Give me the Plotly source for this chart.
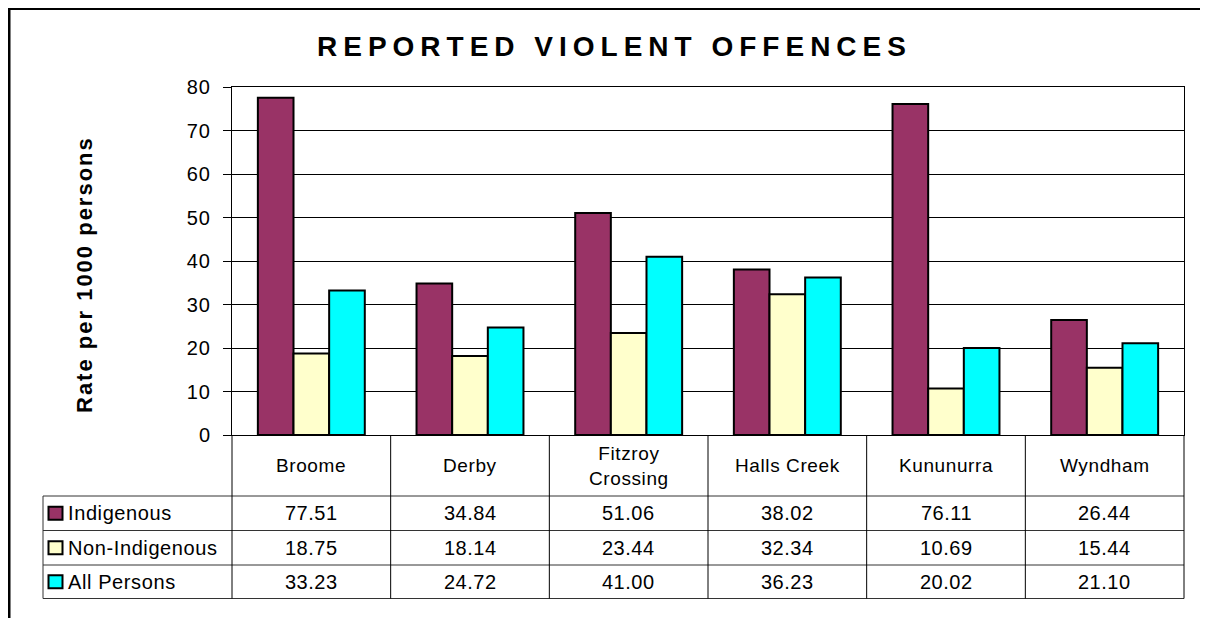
import plotly.graph_objects as go

# ---------------- data ----------------
categories = ["Broome", "Derby", "Fitzroy Crossing", "Halls Creek", "Kununurra", "Wyndham"]
category_labels = ["Broome", "Derby", "Fitzroy<br>Crossing", "Halls Creek", "Kununurra", "Wyndham"]
series_names = ["Indigenous", "Non-Indigenous", "All Persons"]
indigenous = [77.51, 34.84, 51.06, 38.02, 76.11, 26.44]
non_indigenous = [18.75, 18.14, 23.44, 32.34, 10.69, 15.44]
all_persons = [33.23, 24.72, 41.00, 36.23, 20.02, 21.10]
series_values = [indigenous, non_indigenous, all_persons]
series_colors = ["#993366", "#FFFFCC", "#00FFFF"]
y_tick_values = [0, 10, 20, 30, 40, 50, 60, 70, 80]
title_text = "REPORTED VIOLENT OFFENCES"
y_title_text = "Rate per 1000 persons"

# ---------------- layout geometry (page pixels) ----------------
OFF = 8                      # default page margin around the plot div
W, H = 1208 - OFF, 618 - OFF
PL, PR, PT, PB = 232, 1184, 87, 435   # plot area in page pixels
FONT = "Liberation Sans, Arial, sans-serif"


def xp(px):
    return (px - PL) / (PR - PL)


def yp(py):
    return (PB - py) / (PB - PT)


fig = go.Figure()
for name, vals, col in zip(series_names, series_values, series_colors):
    fig.add_trace(go.Bar(
        x=categories, y=vals, name=name,
        marker=dict(color=col, line=dict(color="black", width=2)),
        showlegend=False,
    ))

shapes = []
annotations = []

# outer frame (top and left edges)
shapes.append(dict(type="line", xref="paper", yref="paper",
                   x0=xp(9), x1=xp(1215), y0=yp(8.5), y1=yp(8.5),
                   line=dict(color="black", width=3)))
shapes.append(dict(type="line", xref="paper", yref="paper",
                   x0=xp(9), x1=xp(9), y0=yp(7), y1=yp(625),
                   line=dict(color="black", width=3)))

# data table lines
row_lines = [496, 530.5, 565, 598.5]
tbl_left = 43
ncat = len(categories)
colw = (PR - PL) / ncat
for ry in row_lines:
    shapes.append(dict(type="line", xref="paper", yref="paper",
                       x0=xp(tbl_left), x1=xp(PR), y0=yp(ry), y1=yp(ry),
                       line=dict(color="#333333", width=1)))
for k in range(ncat + 1):
    cx = PL + k * colw
    shapes.append(dict(type="line", xref="paper", yref="paper",
                       x0=xp(cx), x1=xp(cx), y0=yp(PB), y1=yp(row_lines[-1]),
                       line=dict(color="black", width=1)))
shapes.append(dict(type="line", xref="paper", yref="paper",
                   x0=xp(tbl_left), x1=xp(tbl_left), y0=yp(row_lines[0]), y1=yp(row_lines[-1]),
                   line=dict(color="#333333", width=1)))

# category labels row
for cat, lab in zip(categories, category_labels):
    annotations.append(dict(x=cat, xref="x", y=yp((PB + row_lines[0]) / 2), yref="paper",
                            text=f"<span style='letter-spacing:0.6px'>{lab}</span>",
                            showarrow=False, xanchor="center", yanchor="middle",
                            font=dict(family=FONT, size=19, color="black")))

# value rows + legend keys
for r, (name, vals, col) in enumerate(zip(series_names, series_values, series_colors)):
    top, bot = row_lines[r], row_lines[r + 1]
    cy = (top + bot) / 2
    for cat, v in zip(categories, vals):
        annotations.append(dict(x=cat, xref="x", y=yp(cy), yref="paper",
                                text=f"<span style='letter-spacing:0.5px'>{v:.2f}</span>",
                                showarrow=False, xanchor="center", yanchor="middle",
                                font=dict(family=FONT, size=20, color="black")))
    shapes.append(dict(type="rect", xref="paper", yref="paper",
                       x0=xp(48.5), x1=xp(62.5), y0=yp(cy - 6.5), y1=yp(cy + 6.5),
                       fillcolor=col, line=dict(color="black", width=2)))
    annotations.append(dict(x=xp(66), xref="paper", y=yp(cy), yref="paper",
                            text=f"<span style='letter-spacing:0.6px'>{name}</span>",
                            showarrow=False, xanchor="left", yanchor="middle",
                            font=dict(family=FONT, size=20, color="black")))

# title
annotations.append(dict(x=xp(614), xref="paper", y=yp(47), yref="paper",
                        text=f"<b><span style='letter-spacing:6px'>{title_text}</span></b>",
                        showarrow=False, xanchor="center", yanchor="middle",
                        font=dict(family=FONT, size=28, color="black")))
# y axis title
annotations.append(dict(x=xp(84), xref="paper", y=yp(275), yref="paper",
                        text=f"<b><span style='letter-spacing:2px'>{y_title_text}</span></b>",
                        showarrow=False, textangle=-90, xanchor="center", yanchor="middle",
                        font=dict(family=FONT, size=22, color="black")))

fig.update_layout(
    width=W, height=H,
    margin=dict(l=PL - OFF, r=1208 - PR, t=PT - OFF, b=618 - PB, pad=0),
    paper_bgcolor="white", plot_bgcolor="white",
    barmode="group", bargap=0.326, bargroupgap=0,
    shapes=shapes, annotations=annotations,
    font=dict(family=FONT, color="black"),
    xaxis=dict(type="category", showticklabels=False, showgrid=False, ticks="",
               showline=True, linecolor="black", linewidth=1, mirror=True),
    yaxis=dict(range=[0, 80], tickvals=y_tick_values,
               ticktext=[f"<span style='letter-spacing:1px'>{t}</span>" for t in y_tick_values],
               showgrid=True, gridcolor="black", gridwidth=1,
               ticks="outside", ticklen=8, tickcolor="black", tickwidth=1,
               showline=True, linecolor="black", linewidth=1, mirror=True,
               zeroline=False, ticklabelstandoff=8,
               tickfont=dict(family=FONT, size=20, color="black")),
)

fig.write_html("out.html")
